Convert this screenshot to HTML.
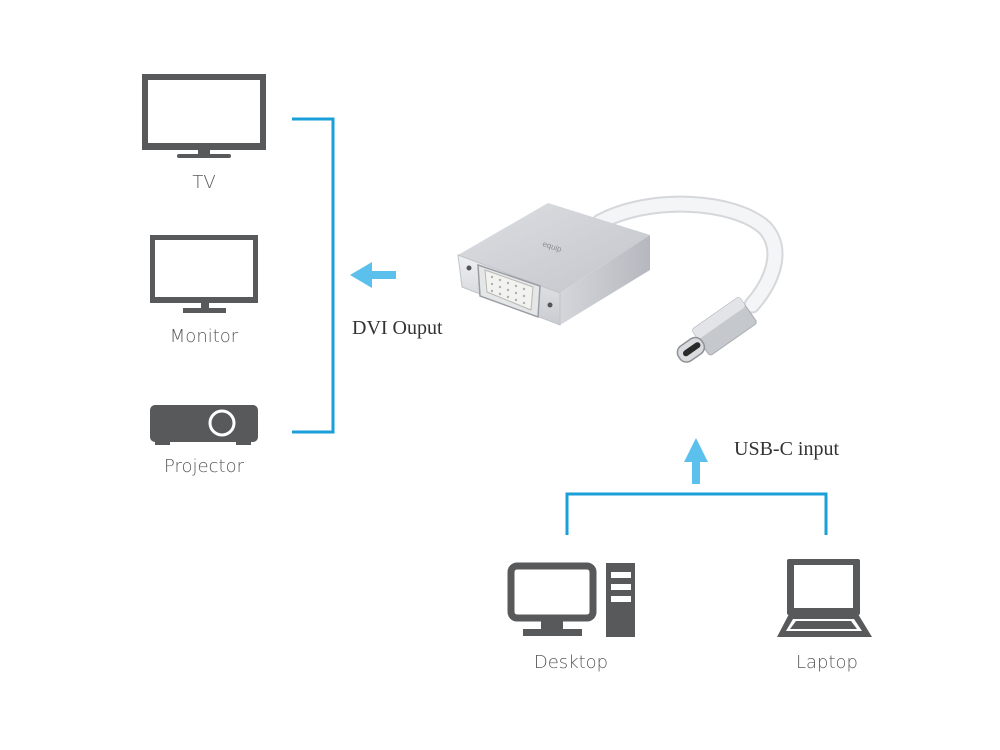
<!DOCTYPE html>
<html><head><meta charset="utf-8"><style>
html,body{margin:0;padding:0;background:#fff;}
svg{display:block}
.lb{font-family:"DejaVu Sans","Liberation Sans",sans-serif;font-size:18px;fill:#58595b;font-weight:300}
.sf{font-family:"Liberation Serif",serif;font-size:20px;fill:#333}
</style></head><body>
<svg width="1000" height="750" viewBox="0 0 1000 750" xmlns="http://www.w3.org/2000/svg">
<defs>
<linearGradient id="top" x1="0" y1="0" x2="1" y2="1"><stop offset="0" stop-color="#dcdee2"/><stop offset="1" stop-color="#c2c5ca"/></linearGradient>
<linearGradient id="front" x1="0" y1="0" x2="0" y2="1"><stop offset="0" stop-color="#eef0f2"/><stop offset="1" stop-color="#c8cbd0"/></linearGradient>
<linearGradient id="side" x1="0" y1="0" x2="1" y2="0"><stop offset="0" stop-color="#d3d6da"/><stop offset="1" stop-color="#b5b8be"/></linearGradient>
</defs>
<!-- TV -->
<rect x="142" y="74" width="124" height="76" fill="#58595b"/>
<rect x="148" y="80" width="112" height="63" fill="#fff"/>
<rect x="198" y="150" width="12" height="5" fill="#58595b"/>
<rect x="177" y="154" width="54" height="4" rx="2" fill="#58595b"/>
<text class="lb" x="204" y="188" text-anchor="middle">TV</text>
<!-- Monitor -->
<rect x="150" y="235" width="108" height="68" fill="#58595b"/>
<rect x="155" y="240" width="98" height="57" fill="#fff"/>
<rect x="201" y="302" width="8" height="7" fill="#58595b"/>
<rect x="183" y="308" width="43" height="5" fill="#58595b"/>
<text class="lb" x="204" y="342" text-anchor="middle">Monitor</text>
<!-- Projector -->
<rect x="150" y="405" width="108" height="37" rx="5" fill="#58595b"/>
<rect x="155" y="440" width="15" height="5" fill="#58595b"/>
<rect x="236" y="440" width="15" height="5" fill="#58595b"/>
<circle cx="222" cy="423" r="12" fill="#58595b" stroke="#fff" stroke-width="3"/>
<text class="lb" x="204" y="472" text-anchor="middle">Projector</text>
<!-- bracket left -->
<path d="M292 119 H333 V432 H292" fill="none" stroke="#1a9fd9" stroke-width="3"/>
<!-- left arrow -->
<path d="M350 275 L372 262 V271 H396 V279 H372 V288 Z" fill="#5bc0eb"/>
<text class="sf" x="352" y="334">DVI Ouput</text>
<!-- cable -->
<path d="M600 222 C650 195, 735 200, 765 228 C785 250, 772 282, 752 305" fill="none" stroke="#d5d7da" stroke-width="17" stroke-linecap="round"/>
<path d="M600 222 C650 195, 735 200, 765 228 C785 250, 772 282, 752 305" fill="none" stroke="#f4f5f6" stroke-width="13" stroke-linecap="round"/>
<!-- USB-C plug -->
<g transform="translate(722,328) rotate(-35)">
<rect x="-26" y="-16" width="58" height="32" rx="3" fill="#c5c8cc" stroke="#a9adb2" stroke-width="1"/>
<rect x="-26" y="-16" width="58" height="12" rx="3" fill="#e2e4e7"/>
<rect x="-52" y="-9" width="28" height="18" rx="8" fill="#d9dbde" stroke="#8e9297" stroke-width="1.5"/>
<rect x="-47" y="-3" width="20" height="6" rx="3" fill="#2a2a2a"/>
</g>
<!-- adapter body -->
<polygon points="458,255 548,203 650,235 560,293" fill="url(#top)"/>
<polygon points="560,293 650,235 650,270 560,325" fill="url(#side)"/>
<polygon points="458,255 560,293 560,325 462,287" fill="url(#front)" stroke="#c0c3c8" stroke-width="1"/>
<polygon points="478,265 540,286 538,317 480,296" fill="#e4e6e8" stroke="#9a9ea3" stroke-width="1.5"/>
<polygon points="485,270 533,287 531,310 487,292" fill="#f2f2f0" stroke="#b8b8b2" stroke-width="1"/>
<g fill="#b0b0a8">
<circle cx="492" cy="277" r="1.2"/><circle cx="500" cy="280" r="1.2"/><circle cx="508" cy="283" r="1.2"/><circle cx="516" cy="286" r="1.2"/><circle cx="524" cy="289" r="1.2"/>
<circle cx="492" cy="284" r="1.2"/><circle cx="500" cy="287" r="1.2"/><circle cx="508" cy="290" r="1.2"/><circle cx="516" cy="293" r="1.2"/><circle cx="524" cy="296" r="1.2"/>
<circle cx="492" cy="291" r="1.2"/><circle cx="500" cy="294" r="1.2"/><circle cx="508" cy="297" r="1.2"/><circle cx="516" cy="300" r="1.2"/><circle cx="524" cy="303" r="1.2"/>
</g>
<circle cx="469" cy="268" r="2.5" fill="#555"/>
<circle cx="550" cy="305" r="2.5" fill="#555"/>
<text x="542" y="246" font-family="Liberation Sans,sans-serif" font-size="8" fill="#8a8e93" transform="rotate(18 542 246)">equip</text>
<!-- USB-C arrow -->
<path d="M696 438 L708 462 H700 V484 H692 V462 H684 Z" fill="#5bc0eb"/>
<text class="sf" x="734" y="455">USB-C input</text>
<!-- bracket bottom -->
<path d="M567 535 V494 H826 V535" fill="none" stroke="#1a9fd9" stroke-width="3"/>
<!-- Desktop -->
<rect x="511" y="566" width="82" height="52" rx="6" fill="none" stroke="#58595b" stroke-width="7"/>
<rect x="541" y="621" width="22" height="9" fill="#58595b"/>
<rect x="523" y="629" width="59" height="7" fill="#58595b"/>
<rect x="606" y="563" width="29" height="74" fill="#58595b"/>
<rect x="611" y="572" width="20" height="6" fill="#fff"/>
<rect x="611" y="584" width="20" height="6" fill="#fff"/>
<rect x="611" y="596" width="20" height="6" fill="#fff"/>
<text class="lb" x="571" y="668" text-anchor="middle">Desktop</text>
<!-- Laptop -->
<rect x="787" y="559" width="73" height="56" rx="2" fill="#58595b"/>
<rect x="794" y="565" width="59" height="43" fill="#fff"/>
<polygon points="789,614 858,614 872,637 777,637" fill="#58595b"/>
<polygon points="793,619 854,619 862,631 786,631" fill="#fff"/>
<polygon points="796,621 851,621 857,629 790,629" fill="#58595b"/>
<text class="lb" x="827" y="668" text-anchor="middle">Laptop</text>
</svg>
</body></html>
